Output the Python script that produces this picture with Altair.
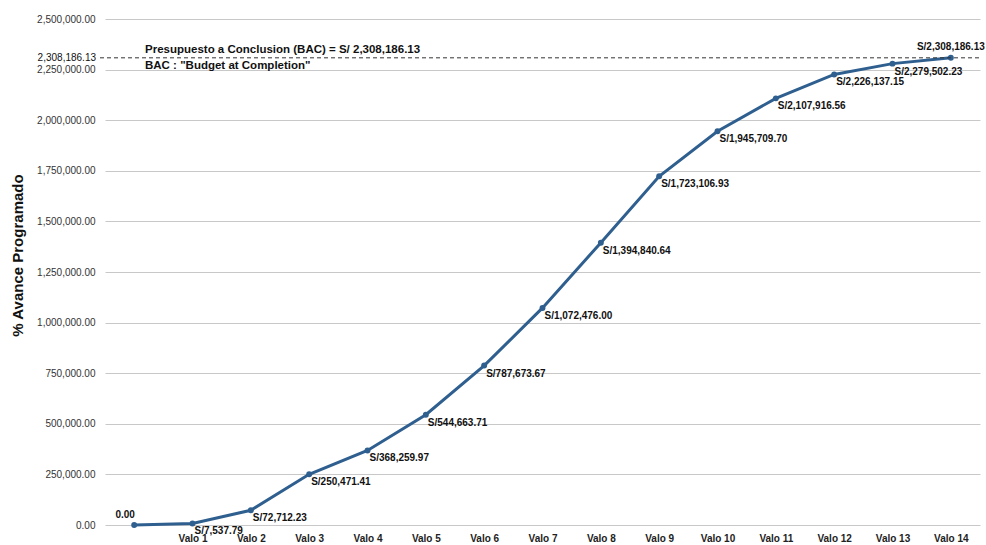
import altair as alt
import pandas as pd

categories = ["", "Valo 1", "Valo 2", "Valo 3", "Valo 4", "Valo 5", "Valo 6", "Valo 7",
              "Valo 8", "Valo 9", "Valo 10", "Valo 11", "Valo 12", "Valo 13", "Valo 14"]
values = [0.00, 7537.79, 72712.23, 250471.41, 368259.97, 544663.71, 787673.67, 1072476.00,
          1394840.64, 1723106.93, 1945709.70, 2107916.56, 2226137.15, 2279502.23, 2308186.13]
labels = ["0.00", "S/7,537.79", "S/72,712.23", "S/250,471.41", "S/368,259.97", "S/544,663.71",
          "S/787,673.67", "S/1,072,476.00", "S/1,394,840.64", "S/1,723,106.93", "S/1,945,709.70",
          "S/2,107,916.56", "S/2,226,137.15", "S/2,279,502.23", "S/2,308,186.13"]
positions = ["first"] + ["below"] * 13 + ["last"]
bac = 2308186.13
bac_label = "2,308,186.13"
y_ticks = [0, 250000, 500000, 750000, 1000000, 1250000, 1500000, 1750000, 2000000, 2250000, 2500000]

df = pd.DataFrame({"cat": categories, "val": values, "label": labels, "pos": positions})
bac_df = pd.DataFrame({"bac": [bac], "txt": [bac_label],
                       "l1": ["Presupuesto a Conclusion (BAC) = S/ 2,308,186.13"],
                       "l2": ['BAC : "Budget at Completion"']})

FONT = "Liberation Sans"
blue = "#2F5F8F"

x = alt.X("cat:N", sort=categories, scale=alt.Scale(type="point", padding=0.5),
          axis=alt.Axis(title=None, ticks=False, domain=False, grid=False,
                        labelFont=FONT, labelFontSize=10, labelFontWeight="bold",
                        labelColor="#222", labelPadding=8, labelAngle=0))
xs = alt.X("cat:N", sort=categories)
y = alt.Y("val:Q", scale=alt.Scale(domain=[0, 2500000], nice=False),
          axis=alt.Axis(title="% Avance Programado", values=y_ticks, format=",.2f",
                        ticks=False, domain=False, gridColor="#c8c8c8", gridWidth=1,
                        labelFont=FONT, labelFontSize=10, labelColor="#333", labelPadding=10,
                        titleFont=FONT, titleFontSize=15, titleFontWeight="bold",
                        titleColor="#111", titleX=-88, titleY=236, titleAngle=-90,
                        titleBaseline="middle", titleAlign="center"))

base = alt.Chart(df)
line = base.mark_line(color=blue, strokeWidth=3).encode(x=x, y=y)
pts = base.mark_circle(color=blue, size=35, opacity=1).encode(x=xs, y="val:Q")

txt_below = base.transform_filter(alt.datum.pos == "below").mark_text(
    align="left", baseline="top", dx=2, dy=3, font=FONT, fontSize=10, fontWeight="bold",
    color="#111").encode(x=xs, y="val:Q", text="label:N")
txt_first = base.transform_filter(alt.datum.pos == "first").mark_text(
    align="center", baseline="bottom", dx=-9, dy=-5, font=FONT, fontSize=10, fontWeight="bold",
    color="#111").encode(x=xs, y="val:Q", text="label:N")
txt_last = base.transform_filter(alt.datum.pos == "last").mark_text(
    align="center", baseline="bottom", dx=0, dy=-6, font=FONT, fontSize=10, fontWeight="bold",
    color="#111").encode(x=xs, y="val:Q", text="label:N")

bbase = alt.Chart(bac_df)
rule = bbase.mark_rule(color="#333", strokeDash=[4, 3], strokeWidth=1).encode(
    y="bac:Q", x=alt.value(-5), x2=alt.value(875))
bac_txt = bbase.mark_text(align="right", baseline="middle", dx=0, font=FONT, fontSize=10,
                          color="#111").encode(y="bac:Q", x=alt.value(-9), text="txt:N")
l1 = bbase.mark_text(align="left", baseline="bottom", dy=-3, font=FONT, fontSize=11.5,
                     fontWeight="bold", color="#111").encode(y="bac:Q", x=alt.value(40), text="l1:N")
l2 = bbase.mark_text(align="left", baseline="top", dy=2, font=FONT, fontSize=11.5,
                     fontWeight="bold", color="#111").encode(y="bac:Q", x=alt.value(40), text="l2:N")

chart = alt.layer(line, pts, txt_below, txt_first, txt_last, rule, bac_txt, l1, l2).properties(
    width=875, height=506,
    autosize=alt.AutoSizeParams(type="none"),
    padding={"left": 105, "top": 19, "right": 6, "bottom": 20},
    background="white",
).configure_view(stroke=None)

chart.save("out.html", embed_options={"renderer": "svg", "actions": False})
